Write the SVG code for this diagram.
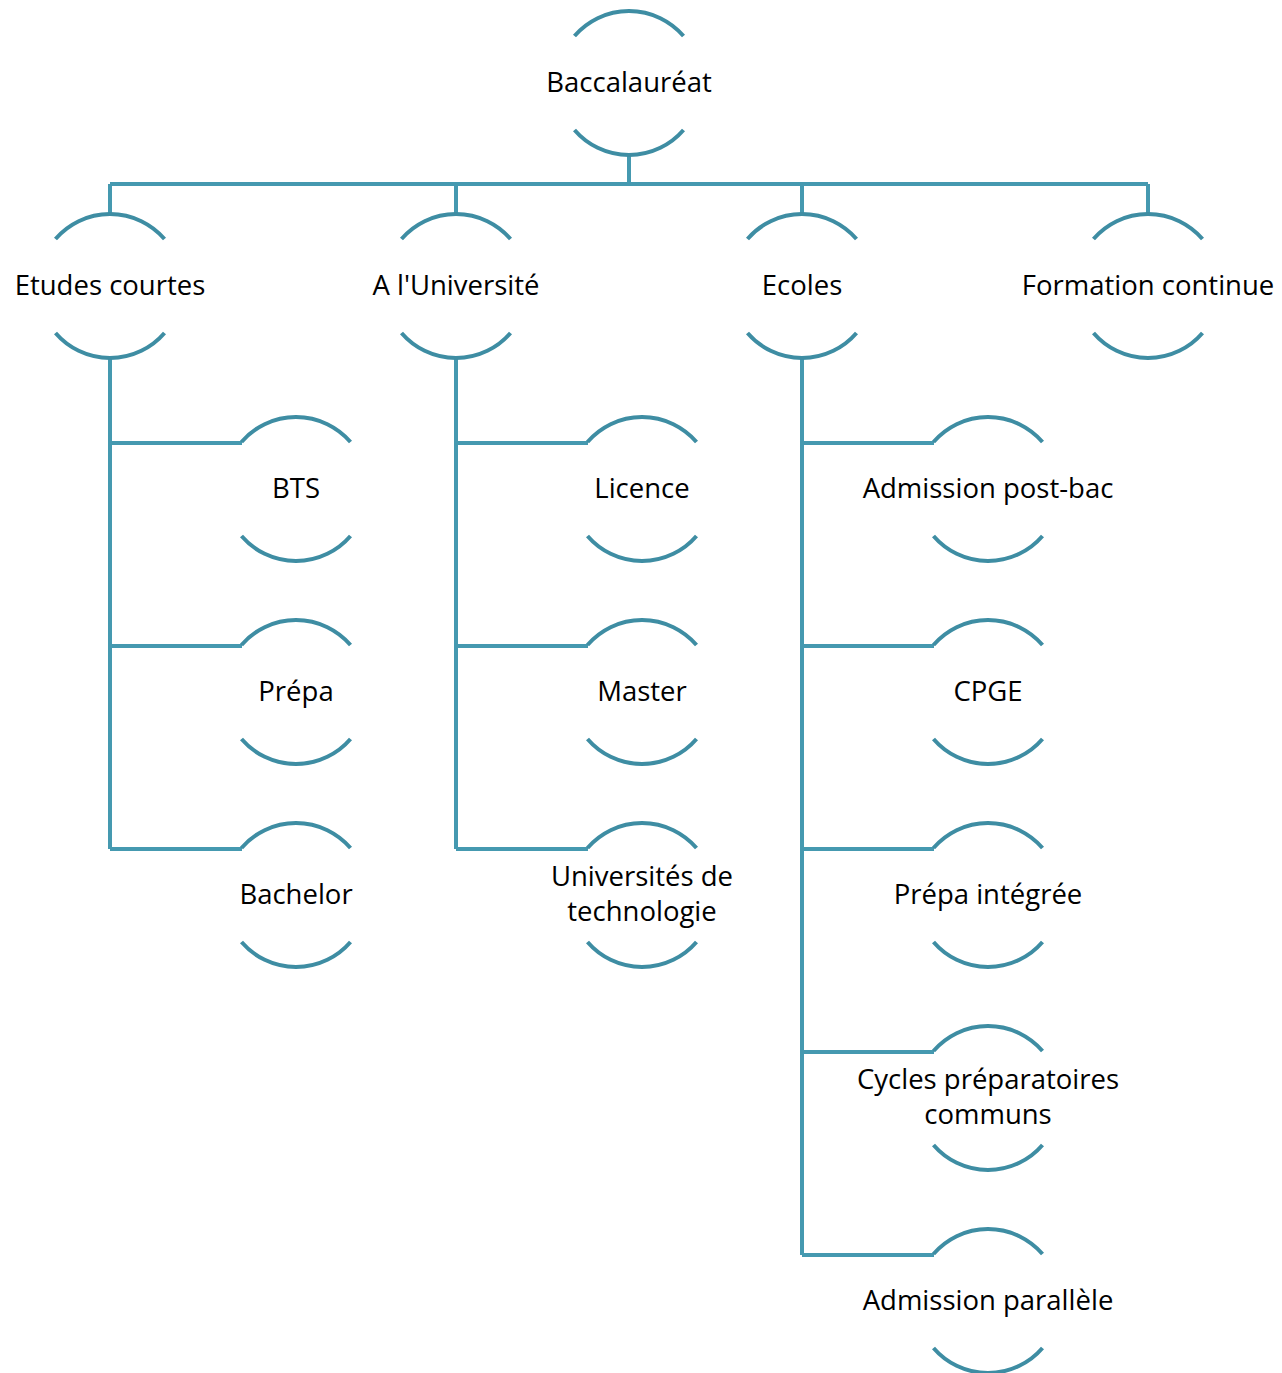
<svg xmlns="http://www.w3.org/2000/svg" width="1282" height="1373" viewBox="0 0 1282 1373">
<defs>
<style>
.arc{fill:none;stroke:#3E8DA3;stroke-width:4}
.ln{fill:none;stroke:#4599B0;stroke-width:4}
text{font-family:"Open Sans","Liberation Sans",Arial,sans-serif;font-size:27.5px;fill:#000;text-anchor:middle}
</style>
<g id="shape">
<path class="arc" d="M-54.5,-47 A72,72 0 0 1 54.5,-47 M-54.5,47 A72,72 0 0 0 54.5,47"/>
</g>
</defs>
<rect width="1282" height="1373" fill="#fff"/>
<g id="connectors">
<path class="ln" d="M629,155 V184 M110,184 H1148 M110,184 V214 M456,184 V214 M802,184 V214 M1148,184 V214"/>
<path class="ln" d="M110,358 V849 M110,443 H242 M110,646 H242 M110,849 H242"/>
<path class="ln" d="M456,358 V849 M456,443 H588 M456,646 H588 M456,849 H588"/>
<path class="ln" d="M802,358 V1255 M802,443 H934 M802,646 H934 M802,849 H934 M802,1052 H934 M802,1255 H934"/>
</g>
<g id="n-bac"><use href="#shape" x="629" y="83"/><text x="629" y="92">Baccalauréat</text></g>
<g id="n-courtes"><use href="#shape" x="110" y="286"/><text x="110" y="295">Etudes courtes</text></g>
<g id="n-univ"><use href="#shape" x="456" y="286"/><text x="456" y="295">A l'Université</text></g>
<g id="n-ecoles"><use href="#shape" x="802" y="286"/><text x="802" y="295">Ecoles</text></g>
<g id="n-formation"><use href="#shape" x="1148" y="286"/><text x="1148" y="295">Formation continue</text></g>
<g id="n-bts"><use href="#shape" x="296" y="489"/><text x="296" y="498">BTS</text></g>
<g id="n-prepa"><use href="#shape" x="296" y="692"/><text x="296" y="701">Prépa</text></g>
<g id="n-bachelor"><use href="#shape" x="296" y="895"/><text x="296" y="904">Bachelor</text></g>
<g id="n-licence"><use href="#shape" x="642" y="489"/><text x="642" y="498">Licence</text></g>
<g id="n-master"><use href="#shape" x="642" y="692"/><text x="642" y="701">Master</text></g>
<g id="n-ut"><use href="#shape" x="642" y="895"/><text x="642" y="886">Universités de</text><text x="642" y="921">technologie</text></g>
<g id="n-apb"><use href="#shape" x="988" y="489"/><text x="988" y="498">Admission post-bac</text></g>
<g id="n-cpge"><use href="#shape" x="988" y="692"/><text x="988" y="701">CPGE</text></g>
<g id="n-pi"><use href="#shape" x="988" y="895"/><text x="988" y="904">Prépa intégrée</text></g>
<g id="n-cpc"><use href="#shape" x="988" y="1098"/><text x="988" y="1089">Cycles préparatoires</text><text x="988" y="1124">communs</text></g>
<g id="n-ap"><use href="#shape" x="988" y="1301"/><text x="988" y="1310">Admission parallèle</text></g>
</svg>
